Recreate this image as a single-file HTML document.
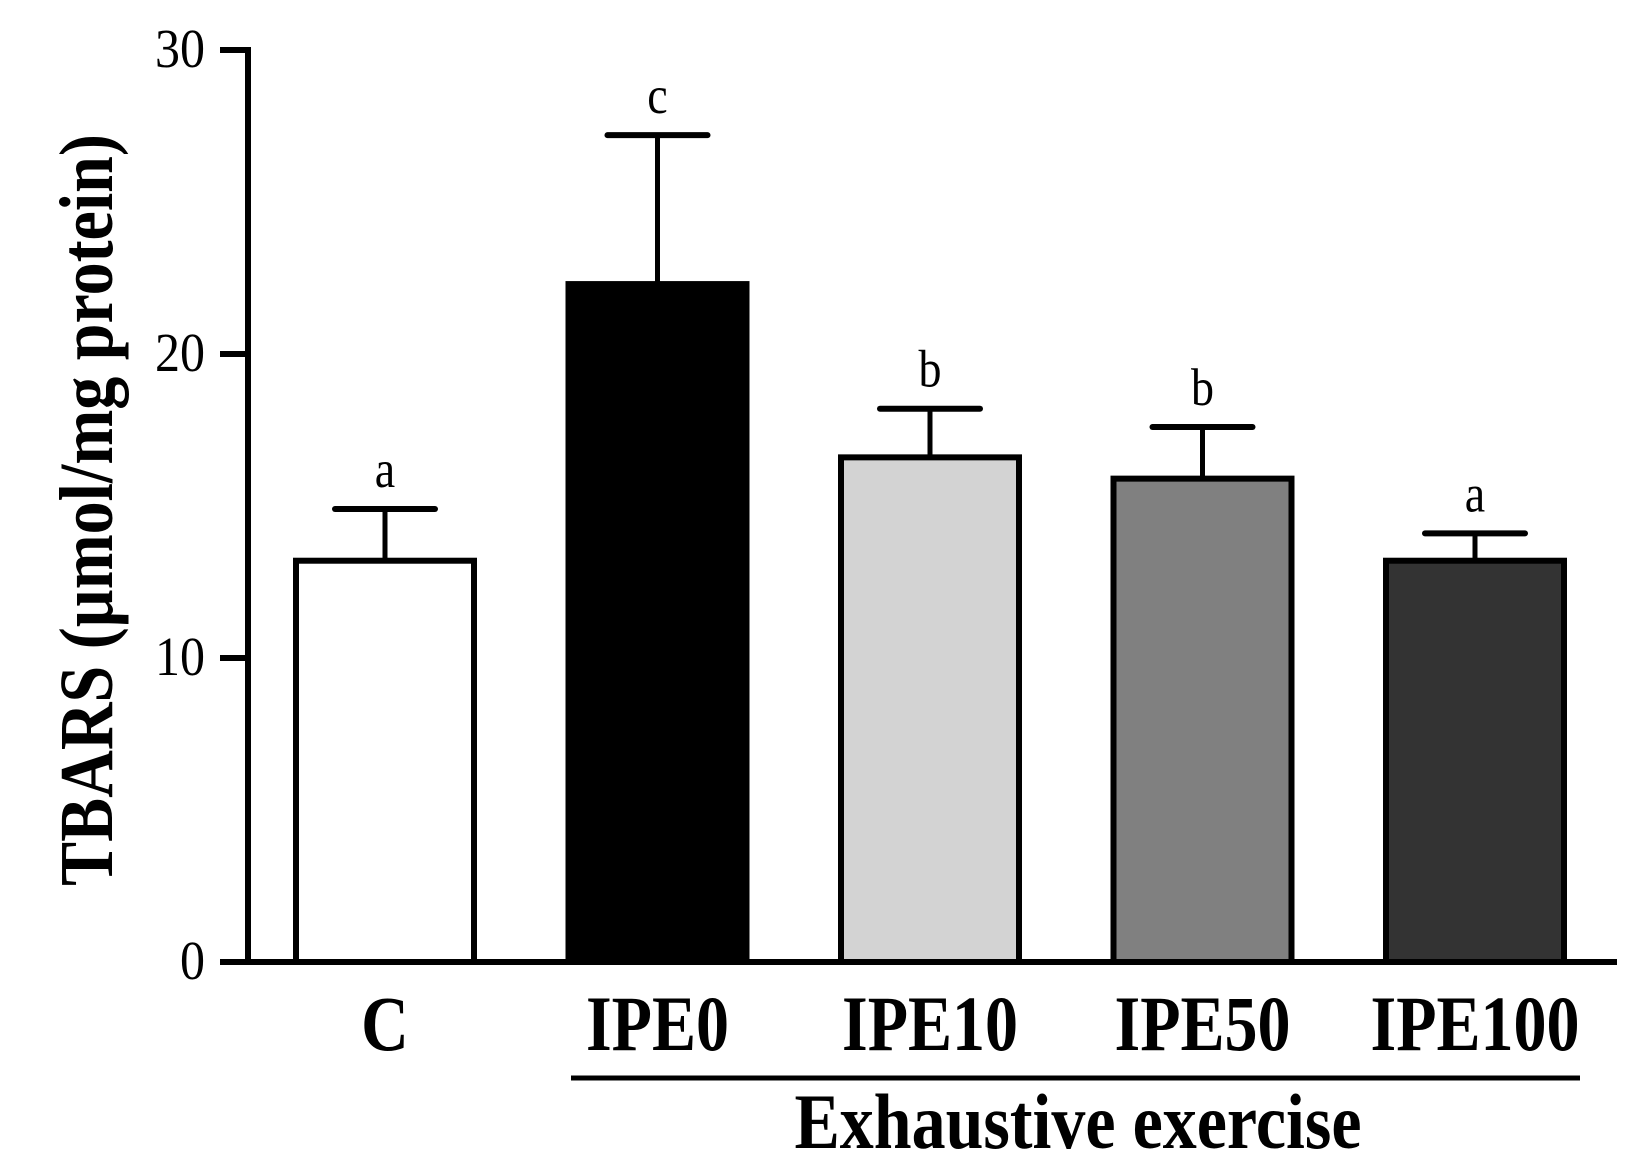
<!DOCTYPE html>
<html><head><meta charset="utf-8"><style>
html,body{margin:0;padding:0;background:#fff;}
svg{display:block;}
text{font-family:"Liberation Serif",serif;fill:#000;}
</style></head><body>
<svg id="chart" width="1642" height="1173" viewBox="0 0 1642 1173" xmlns="http://www.w3.org/2000/svg"></svg>
<script>
const categories = ["C","IPE0","IPE10","IPE50","IPE100"];
const means = [13.2, 22.3, 16.6, 15.9, 13.2];
const errors = [1.7, 4.9, 1.6, 1.7, 0.9];
const letters = ["a","c","b","b","a"];
const fills = ["#ffffff","#000000","#d3d3d3","#808080","#333333"];
const yTicks = [0,10,20,30];

const svg = document.getElementById('chart');
const NS = 'http://www.w3.org/2000/svg';
const y0 = 962, y30 = 50, axisX = 248;
function yScale(v){ return y0 - (y0 - y30) * v / 30; }
function xCenter(i){ return 385 + i * 272.5; }
const barW = 178;
function mk(tag, attrs){ const e = document.createElementNS(NS, tag); for (const k in attrs) e.setAttribute(k, attrs[k]); svg.appendChild(e); return e; }

categories.forEach((c, i) => {
  const cx = xCenter(i), top = yScale(means[i]), et = yScale(means[i] + errors[i]);
  const eb = mk('line', {x1:cx, x2:cx, y1:top, y2:et, stroke:'#000','stroke-width':5});
  
  
  const cap = mk('line', {x1:cx-50, x2:cx+50, y1:et, y2:et, stroke:'#000','stroke-width':6,'stroke-linecap':'round'});
  
  
  const r = mk('rect', {x:cx-barW/2, y:top, width:barW, height:y0-top, fill:fills[i], stroke:'#000','stroke-width':6});
  
  
  const lt = mk('text', {x:0, y:0, 'text-anchor':'middle', 'font-size':46, transform:'translate(' + cx + ',' + (et-22) + ') scale(1,1.15)'});
  lt.textContent = letters[i];
  
  
  const xl = mk('text', {x:0, y:0, 'text-anchor':'middle', 'font-size':66, 'font-weight':'bold', transform:'translate(' + cx + ',1050) scale(1,1.18)'});
  xl.textContent = c;
  
  
});

const ya = mk('line', {x1:axisX, x2:axisX, y1:y30-3, y2:y0+3, stroke:'#000','stroke-width':6});


const xa = mk('line', {x1:222, x2:1617, y1:y0, y2:y0, stroke:'#000','stroke-width':6});


yTicks.forEach(t => {
  const y = yScale(t);
  const tk = mk('line', {x1:220, x2:axisX, y1:y, y2:y, stroke:'#000','stroke-width':6});
  
  
  const tl = mk('text', {x:0, y:0, 'text-anchor':'end', 'font-size':50, transform:'translate(205,' + (y+17) + ') scale(1,1.1)'});
  tl.textContent = t;
  
  
});

const yt = mk('text', {x:0, y:0, 'text-anchor':'middle', 'font-size':66, 'font-weight':'bold', transform:'translate(112,510) rotate(-90) scale(1,1.15)'});
yt.textContent = 'TBARS (\u00b5mol/mg protein)';



const gl = mk('line', {x1:571, x2:1580, y1:1078, y2:1078, stroke:'#000','stroke-width':5});


const gt = mk('text', {x:0, y:0, 'text-anchor':'middle', 'font-size':68, 'font-weight':'bold', transform:'translate(1078,1148) scale(1,1.15)'});
gt.textContent = 'Exhaustive exercise';


</script>
</body></html>
